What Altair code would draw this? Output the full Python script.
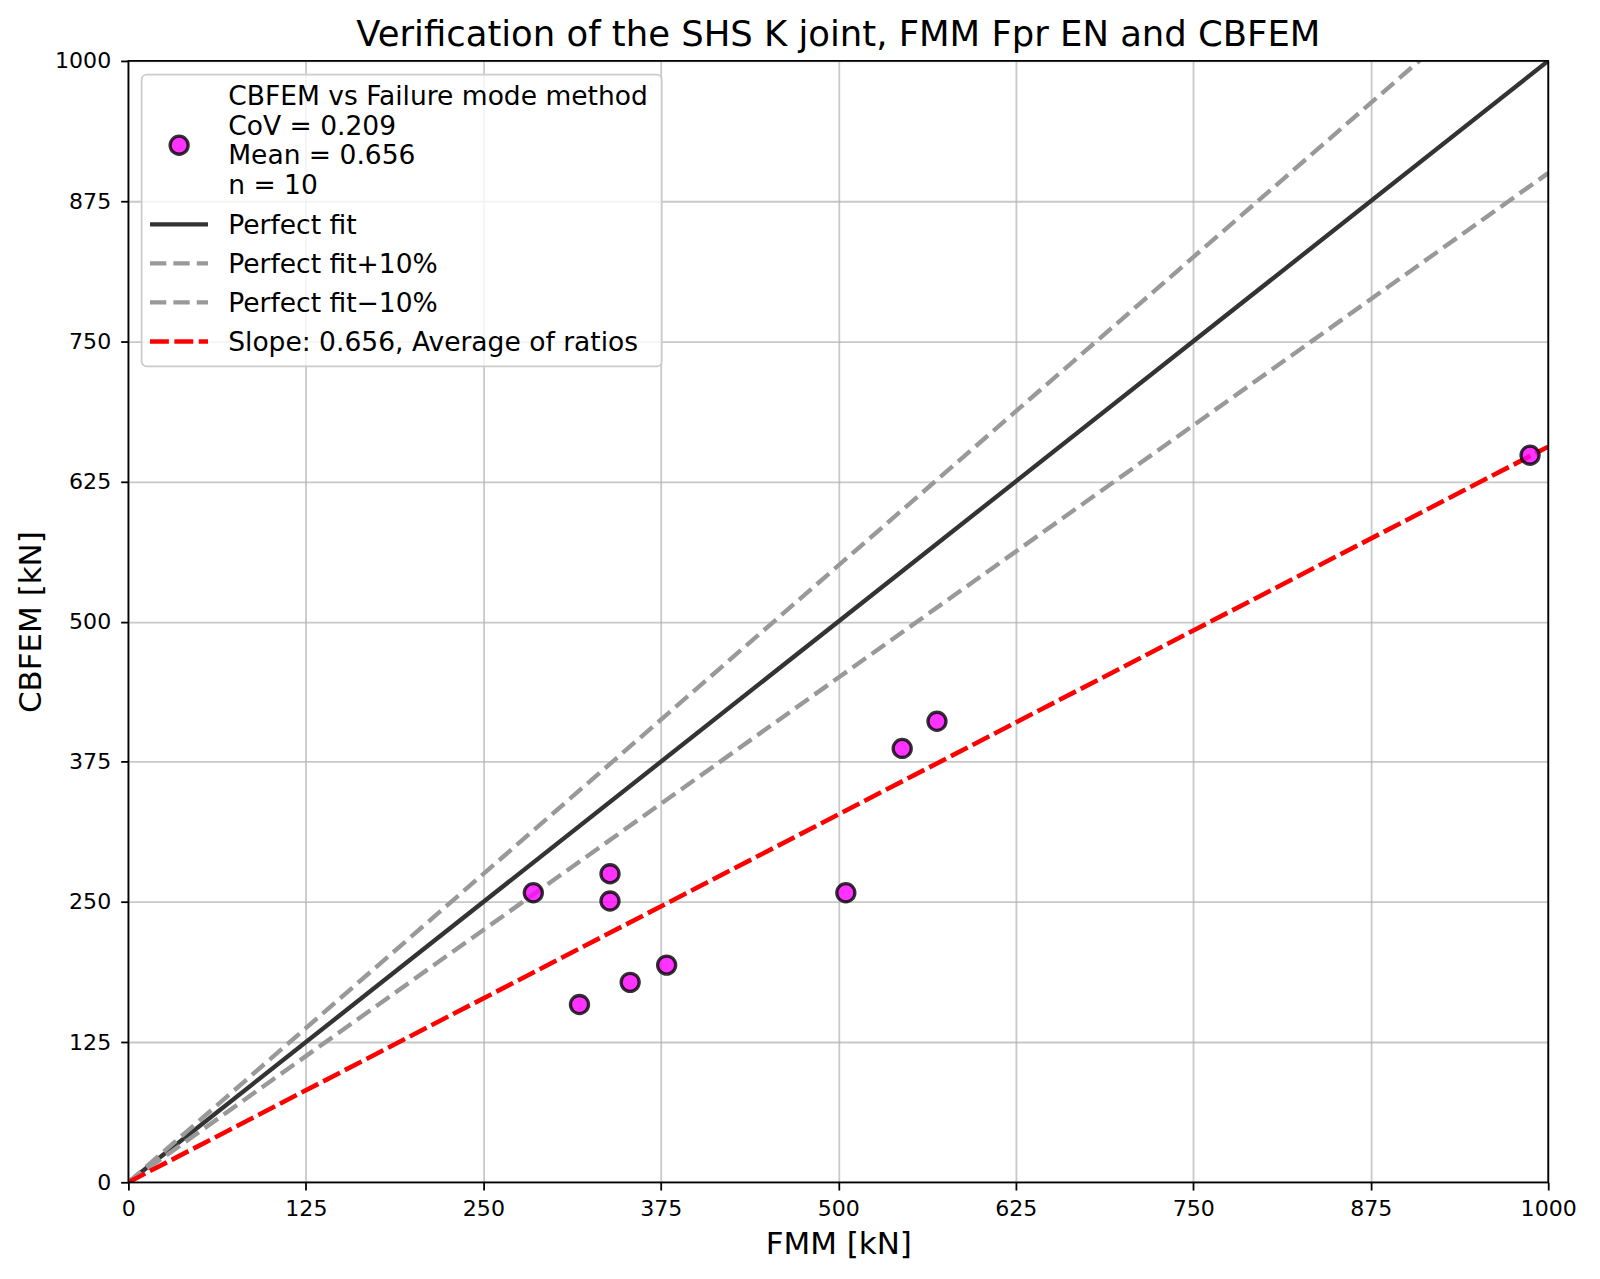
import altair as alt
import pandas as pd

# ---- data ----
fmm = [285.2, 339.2, 339.2, 317.7, 353.4, 379.1, 505.3, 545.0, 569.5, 987.2]
cbfem = [258.2, 275.1, 250.8, 158.5, 178.3, 193.7, 258.2, 386.9, 411.1, 648.4]
tick_values = [0, 125, 250, 375, 500, 625, 750, 875, 1000]
line_names = ["Perfect fit", "Perfect fit+10%", "Perfect fit\u221210%",
              "Slope: 0.656, Average of ratios"]
line_slopes = [1.0, 1.1, 0.9, 0.656]
line_x = [0, 1000]
point_label = ["CBFEM vs Failure mode method", "CoV = 0.209",
               "Mean = 0.656", "n = 10"]
title_text = "Verification of the SHS K joint, FMM Fpr EN and CBFEM"
x_title = "FMM [kN]"
y_title = "CBFEM [kN]"

# ---- styles ----
W, H = 1427, 1127
FONT = "DejaVu Sans"
line_colors = ["#333333", "#999999", "#999999", "#ff0000"]
line_dashes = [None, [16.4, 7.1], [16.4, 7.1], [19, 5.5]]
line_widths = [4.4, 4.4, 4.4, 4.6]
pt_style = dict(shape="circle", filled=True, color="#ff00ff", fill="#ff00ff",
                fillOpacity=0.8, stroke="black", strokeOpacity=0.8,
                strokeWidth=3.3, size=330, opacity=1)

pts = pd.DataFrame({"FMM": fmm, "CBFEM": cbfem})

xs = alt.Scale(domain=[0, 1000], nice=False, zero=False)
ys = alt.Scale(domain=[0, 1000], nice=False, zero=False)
axis_common = dict(
    values=tick_values, format="d",
    grid=True, gridColor="#b0b0b0", gridOpacity=0.7, gridWidth=1.8,
    domain=False, ticks=True, tickColor="black", tickWidth=1.8, tickSize=7.8,
    labelFont=FONT, labelFontSize=22.2, labelColor="black",
    labelFlush=False, labelOverlap=False,
    titleFont=FONT, titleFontSize=31.1, titleFontWeight="normal",
    titleColor="black",
)
x_axis = alt.Axis(title=x_title, titleY=72, titleBaseline="alphabetic",
                  labelPadding=8, **axis_common)
y_axis = alt.Axis(title=y_title, titleX=-88, titleY=H / 2,
                  titleBaseline="alphabetic", titleAlign="center",
                  titleAngle=-90, labelPadding=10, **axis_common)

layers = []
for i, (name, k) in enumerate(zip(line_names, line_slopes)):
    df = pd.DataFrame({"FMM": line_x, "CBFEM": [k * v for v in line_x]})
    md = dict(color=line_colors[i], strokeWidth=line_widths[i], clip=True)
    if line_dashes[i]:
        md["strokeDash"] = line_dashes[i]
    enc = dict(x=alt.X("FMM:Q", scale=xs, axis=x_axis),
               y=alt.Y("CBFEM:Q", scale=ys, axis=y_axis))
    layers.append(alt.Chart(df).mark_line(**md).encode(**enc))

layers.append(
    alt.Chart(pts).mark_point(**pt_style).encode(
        x=alt.X("FMM:Q", scale=xs, axis=x_axis),
        y=alt.Y("CBFEM:Q", scale=ys, axis=y_axis),
    )
)

one = pd.DataFrame({"k": [0]})

# plot frame (spines on top of lines)
layers.append(
    alt.Chart(one).mark_rect(fill=None, fillOpacity=0, stroke="black",
                             strokeWidth=1.8).encode(
        x=alt.value(0), x2=alt.value(W), y=alt.value(0), y2=alt.value(H))
)

# legend box
layers.append(
    alt.Chart(one).mark_rect(fill="white", fillOpacity=0.8, stroke="#cccccc",
                             strokeWidth=1.8, cornerRadius=5).encode(
        x=alt.value(13.3), x2=alt.value(536), y=alt.value(13.7),
        y2=alt.value(307))
)

# legend symbol for the scatter
layers.append(
    alt.Chart(one).mark_point(**pt_style).encode(x=alt.value(51),
                                                 y=alt.value(84.7))
)

text_x = 100.3
for j, s in enumerate(point_label):
    layers.append(
        alt.Chart(one).mark_text(text=s, font=FONT, fontSize=26.67,
                                 color="black", align="left",
                                 baseline="alphabetic").encode(
            x=alt.value(text_x), y=alt.value(44.6 + 29.7 * j))
    )

for i, name in enumerate(line_names):
    base_y = 173.7 + 39.2 * i
    md = dict(color=line_colors[i], strokeWidth=line_widths[i])
    if line_dashes[i]:
        md["strokeDash"] = line_dashes[i]
    layers.append(
        alt.Chart(one).mark_rule(**md).encode(
            x=alt.value(21.7), x2=alt.value(80), y=alt.value(base_y - 9.4))
    )
    layers.append(
        alt.Chart(one).mark_text(text=name, font=FONT, fontSize=26.67,
                                 color="black", align="left",
                                 baseline="alphabetic").encode(
            x=alt.value(text_x), y=alt.value(base_y))
    )

chart = alt.layer(*layers).properties(
    width=W, height=H,
    background="white",
    title=alt.TitleParams(text=title_text, font=FONT, fontSize=35.6,
                          fontWeight="normal", color="black",
                          anchor="middle", baseline="alphabetic", offset=2,
                          dy=34),
    padding={"left": 121, "top": 50, "right": 44, "bottom": 94},
    autosize=alt.AutoSizeParams(type="none"),
).configure_view(stroke=None)

chart.save("out.html", embed_options={"renderer": "svg", "actions": False})
